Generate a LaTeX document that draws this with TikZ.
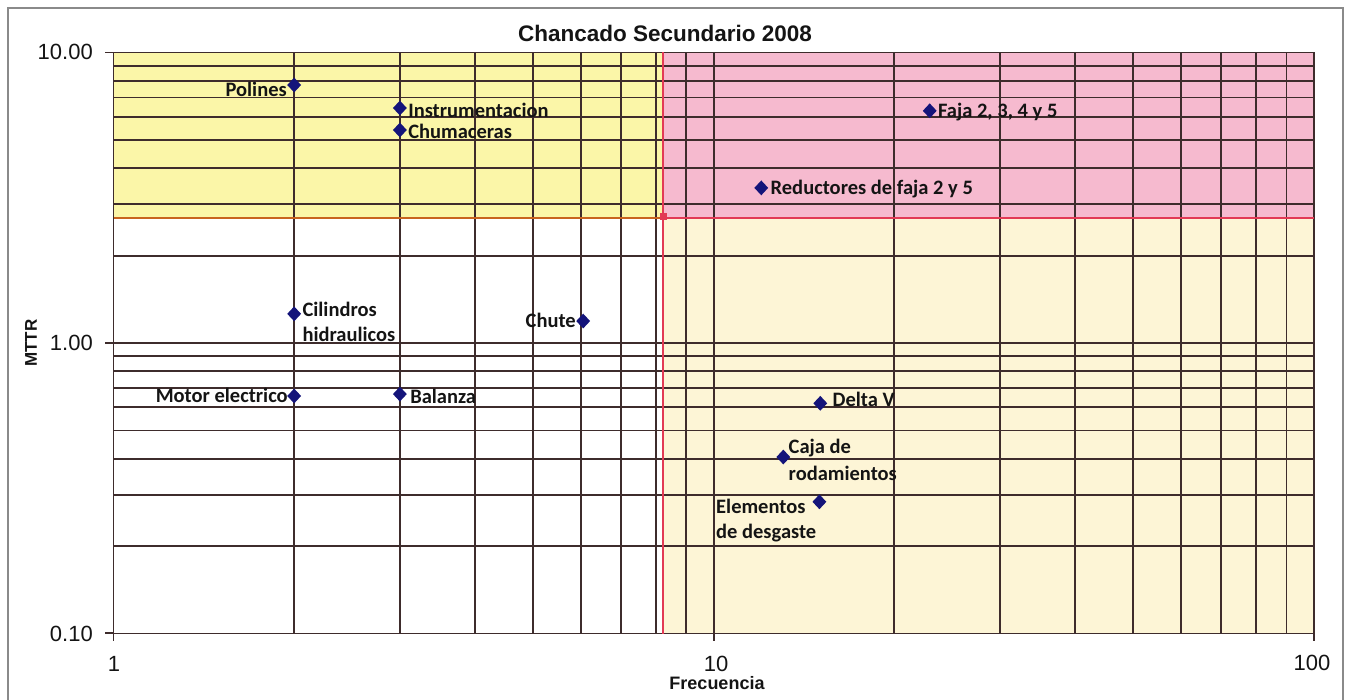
\documentclass[tikz,border=0pt]{standalone}
\usepackage{fontspec}
\setmainfont{Liberation Sans}
\newfontfamily\calib{Carlito}
\usetikzlibrary{shapes.geometric,calc}
\definecolor{gridc}{HTML}{3E2C2C}
\definecolor{hiyellow}{HTML}{FBF6A8}
\definecolor{hipink}{HTML}{F6BACF}
\definecolor{locream}{HTML}{FDF5D6}
\definecolor{markc}{HTML}{14147A}
\definecolor{thrc}{HTML}{E23A55}
\definecolor{thrleftc}{HTML}{C8641E}
\definecolor{framec}{HTML}{8A8A8A}
\definecolor{inkc}{HTML}{141414}
\begin{document}
\begin{tikzpicture}[x=1pt,y=-1pt,
  declare function={px(\f)=113.5+600.25*log10(\f); py(\v)=343-290.5*log10(\v);},
  gridline/.style={gridc,line width=1.9pt},
  thrline/.style={thrc,line width=1.3pt},
  thrleft/.style={thrleftc,line width=1.3pt},
  datapt/.style={diamond,fill=markc,inner sep=0pt,minimum width=14pt,minimum height=15pt},
  lbl/.style={font=\calib\bfseries\fontsize{20.5}{25}\selectfont,text=inkc,inner sep=0pt},
  ticklbl/.style={font=\fontsize{22}{24}\selectfont,text=inkc,inner sep=0pt},
  axtitle/.style={font=\bfseries\fontsize{18}{20}\selectfont,text=inkc,inner sep=0pt},
]
\useasboundingbox (0,0) rectangle (1347,700);

% outer chart frame (open at the bottom edge)
\draw[framec,line width=1.4pt] (8,700) -- (8,8) -- (1343,8) -- (1343,700);

% plot area corners and threshold coordinates
\coordinate (pNW) at (113.5,52.5);
\coordinate (pSE) at (1314,633.5);
\coordinate (tA) at (663,52.5);
\coordinate (tB) at (663,633.5);
\coordinate (tL) at (113.5,218);
\coordinate (tC) at (663,218);
\coordinate (tR) at (1314,218);

% quadrant shading
\fill[hiyellow] (pNW) rectangle (tC);
\fill[hipink] (tA) rectangle (tR);
\fill[locream] (tC) rectangle (pSE);

% logarithmic grid
\foreach \f in {2,3,4,5,6,7,8,9,10,20,30,40,50,60,70,80,90}
  \draw[gridline] ({px(\f)},52.5) -- ({px(\f)},633.5);
\foreach \v in {0.2,0.3,0.4,0.5,0.6,0.7,0.8,0.9,1,2,3,4,5,6,7,8,9}
  \draw[gridline] (113.5,{py(\v)}) -- (1314,{py(\v)});
\draw[gridline] (pNW) rectangle (pSE);

% axis ticks
\foreach \v in {0.1,1,10}
  \draw[gridline] (105,{py(\v)}) -- (113.5,{py(\v)});
\foreach \f in {1,10,100}
  \draw[gridline] ({px(\f)},633.5) -- ({px(\f)},641);

% threshold lines
\draw[thrleft] (tL) -- (tC);
\draw[thrline] (tA) -- (tB);
\draw[thrline] (tC) -- (tR);
\node[fill=thrc,minimum size=7pt,inner sep=0pt] (thr) at (663,217) {};

% title and axes
\node[font=\bfseries\fontsize{22.5}{24}\selectfont,text=inkc,inner sep=0pt,anchor=base] (title) at (665,42) {Chancado Secundario 2008};
\node[ticklbl,anchor=base east] (y10) at (93,60) {10.00};
\node[ticklbl,anchor=base east] (y1) at (93,351) {1.00};
\node[ticklbl,anchor=base east] (y01) at (93,641) {0.10};
\node[ticklbl,anchor=base] (x1) at (114,671) {1};
\node[ticklbl,anchor=base] (x10) at (716,671) {10};
\node[ticklbl,anchor=base] (x100) at (1312,670) {100};
\node[axtitle,anchor=base] (xt) at (717,689) {Frecuencia};
\node[axtitle,font=\bfseries\fontsize{17}{20}\selectfont,rotate=90] (yt) at (31,343) {MTTR};

% data points
\node[datapt] (pol) at ({px(2)},{py(7.73)}) {};
\node[datapt] (ins) at ({px(3)},{py(6.44)}) {};
\node[datapt] (chu) at ({px(3)},{py(5.41)}) {};
\node[datapt] (faja) at ({px(22.9)},{py(6.3)}) {};
\node[datapt] (red) at ({px(12)},{py(3.42)}) {};
\node[datapt] (cil) at ({px(2)},{py(1.26)}) {};
\node[datapt] (chute) at ({px(6.06)},{py(1.19)}) {};
\node[datapt] (mot) at ({px(2)},{py(0.657)}) {};
\node[datapt] (bal) at ({px(3)},{py(0.667)}) {};
\node[datapt] (delta) at ({px(15.05)},{py(0.62)}) {};
\node[datapt] (caja) at ({px(13.06)},{py(0.405)}) {};
\node[datapt] (elem) at ({px(15)},{py(0.284)}) {};

% point labels
\node[lbl,anchor=base east] (lpol) at ($(pol.west)+(0,11)$) {Polines};
\node[lbl,anchor=base west] (lins) at ($(ins.east)+(1,9)$) {Instrumentacion};
\node[lbl,anchor=base west] (lchu) at ($(chu.east)+(1,8)$) {Chumaceras};
\node[lbl,anchor=base west] (lfaja) at ($(faja.east)+(1,7)$) {Faja 2, 3, 4 y 5};
\node[lbl,anchor=base west] (lred) at ($(red.east)+(2,7)$) {Reductores de faja 2 y 5};
\node[lbl,anchor=base west] (lcil) at ($(cil.east)+(1,3)$) {Cilindros};
\node[lbl,anchor=base west] (lcil2) at ($(lcil.base west)+(0,25)$) {hidraulicos};
\node[lbl,anchor=base east] (lchute) at ($(chute.west)+(0,6)$) {Chute};
\node[lbl,anchor=base east] (lmot) at ($(mot.west)+(1,7)$) {Motor electrico};
\node[lbl,anchor=base west] (lbal) at ($(bal.east)+(3,9)$) {Balanza};
\node[lbl,anchor=base west] (ldelta) at ($(delta.east)+(5,3)$) {Delta V};
\node[lbl,anchor=base west] (lcaja) at ($(caja.east)+(-2,-4)$) {Caja de};
\node[lbl,anchor=base west] (lcaja2) at ($(lcaja.base west)+(0,27)$) {rodamientos};
\node[lbl,anchor=base west] (lelem) at (716,513) {Elementos};
\node[lbl,anchor=base west] (lelem2) at ($(lelem.base west)+(0,25)$) {de desgaste};
\end{tikzpicture}
\end{document}
